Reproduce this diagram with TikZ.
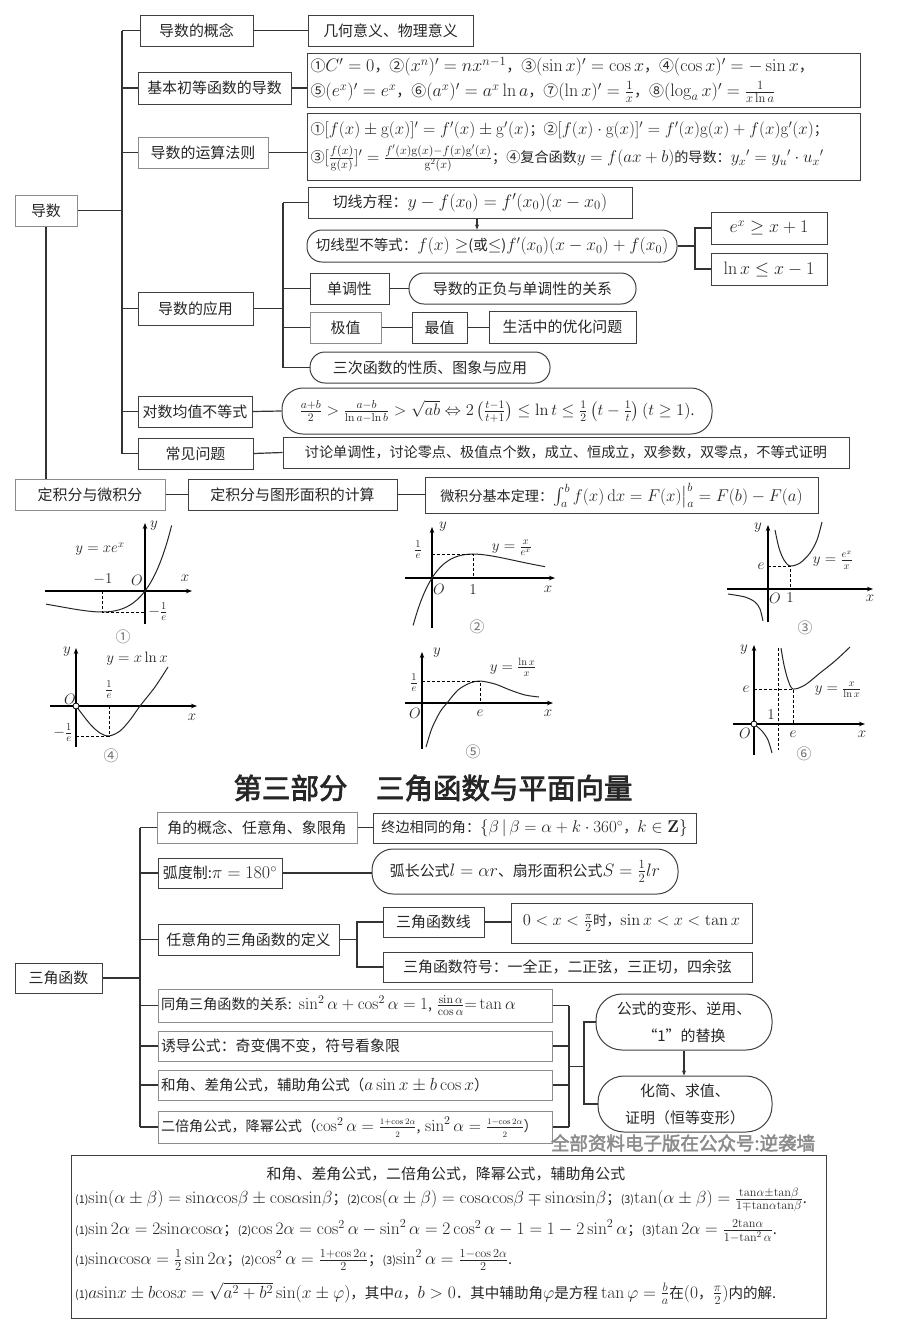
\RequirePackage{fix-cm}
\documentclass[tikz,border=0pt]{standalone}
\usepackage{amsmath,amssymb}
\usepackage[no-math]{fontspec}
\setmainfont{Noto Sans CJK SC}[Scale=0.83]
\newfontfamily\titlefont[FakeBold=2.5]{Noto Sans CJK SC}
\usetikzlibrary{arrows.meta,positioning,calc}
\newcommand{\fsz}[1]{\fontsize{#1}{#1}\selectfont}
\newcommand{\pn}[1]{{\fsz{13}(#1)}}
\newcommand{\sfr}[2]{\frac{\scriptscriptstyle #1}{\scriptscriptstyle #2}}
\tikzset{
  box/.style={draw=black!75, line width=1pt, inner sep=2pt, text=black!85,
    font=\fsz{18}, minimum height=31},
  lbox/.style={box, draw=black!45},
  rbox/.style={box, rounded corners=#1},
  rbox/.default=15pt,
  lt/.style={align=left, text width=#1},
  link/.style={line width=1.2pt, draw=black!80},
  arr/.style={link, -{Stealth[length=5pt,width=4pt]}},
  axis/.style={line width=1.3pt, -{Stealth[length=6pt,width=4.5pt]}},
  curve/.style={line width=1pt, black!85},
  guide/.style={line width=0.8pt, dash pattern=on 3pt off 2pt},
  lab/.style={font=\fsz{15}, inner sep=1pt, text=black!85},
  num/.style={font=\fsz{18}, inner sep=1pt, text=black!55},
  row/.style={anchor=west, inner sep=0pt, font=\fsz{17.5}, text=black!85},
}
\begin{document}
\begin{tikzpicture}[x=1pt,y=-1pt]
\fill[white] (0,0) rectangle (900,1339);
\useasboundingbox (0,0) rectangle (900,1339);

% ---- derivatives
\node[lbox, minimum width=62] (dao) at (46,210.5) {导数};
\node[box, minimum width=113] (gn) at (196.5,30.5) {导数的概念};
\node[box, minimum width=165] (gny) at (390.5,30.5) {几何意义、物理意义};
\node[box, minimum width=153, minimum height=32] (jb) at (214.5,88) {基本初等函数的导数};
\node[box, minimum width=553, minimum height=54, lt=546pt, font=\fontsize{18}{25}\selectfont] (jbf) at (583.5,80)
  {\mbox{①$C'=0$，②$(x^n)'=nx^{n-1}$，③$(\sin x)'=\cos x$，④$(\cos x)'=-\sin x$，}\\
   \mbox{⑤$(e^x)'=e^x$，⑥$(a^x)'=a^x\ln a$，⑦$(\ln x)'=\frac{1}{x}$，⑧$(\log_a x)'=\frac{1}{x\ln a}$}};
\node[lbox, minimum width=130] (ys) at (203,152.5) {导数的运算法则};
\node[box, minimum width=553, minimum height=67, lt=546pt, font=\fontsize{17}{28}\selectfont] (ysf) at (583.5,146.5)
  {\mbox{①$[f(x)\pm \mathrm{g}(x)]'=f'(x)\pm \mathrm{g}'(x)$；②$[f(x)\cdot \mathrm{g}(x)]'=f'(x)\mathrm{g}(x)+f(x)\mathrm{g}'(x)$；}\\
   \mbox{③$[\frac{f(x)}{\mathrm{g}(x)}]'=\frac{f'(x)\mathrm{g}(x)-f(x)\mathrm{g}'(x)}{\mathrm{g}^2(x)}$；④复合函数$y=f(ax+b)$的导数：$y_x{}'=y_u{}'\cdot u_x{}'$}};
\node[box, minimum width=115, minimum height=33] (yy) at (195.5,308.5) {导数的应用};
\node[box, minimum width=324] (qx) at (470,202.5) {切线方程：$y-f(x_0)=f'(x_0)(x-x_0)$};
\node[rbox, minimum width=370, minimum height=32, font=\fsz{17.5}] (qxb) at (492,246)
  {切线型不等式：$f(x)\geq$(或$\leq$)$f'(x_0)(x-x_0)+f(x_0)$};
\node[box, minimum width=116, minimum height=32] (ex) at (769,228) {$e^x\geq x+1$};
\node[box, minimum width=116, minimum height=32] (lnx) at (769,269) {$\ln x\leq x-1$};
\node[box, minimum width=79] (dd) at (349.5,288.5) {单调性};
\node[rbox, minimum width=227] (ddr) at (522.5,288.5) {导数的正负与单调性的关系};
\node[lbox, minimum width=71] (jz) at (345.5,327.5) {极值};
\node[box, minimum width=55] (zz) at (439.5,327.5) {最值};
\node[box, minimum width=147, minimum height=32] (sh) at (562.5,327) {生活中的优化问题};
\node[rbox, minimum width=240] (sc) at (430,367.5) {三次函数的性质、图象与应用};
\node[box, minimum width=114] (dsj) at (195,411.5) {对数均值不等式};
\node[rbox=21pt, minimum width=430, minimum height=46, font=\fsz{16.5}] (dsjf) at (497,411)
  {$\frac{a+b}{2}>\frac{a-b}{\ln a-\ln b}>\sqrt{ab}\Leftrightarrow 2\left(\frac{t-1}{t+1}\right)\leq\ln t\leq\frac{1}{2}\left(t-\frac{1}{t}\right)(t\geq1)$.};
\node[box, minimum width=115] (cj) at (195.5,453.5) {常见问题};
\node[box, minimum width=566, font=\fsz{17}] (cjr) at (566,452.5)
  {讨论单调性，讨论零点、极值点个数，成立、恒成立，双参数，双零点，不等式证明};
\node[lbox, minimum width=150] (djf) at (90,494.5) {定积分与微积分};
\node[box, minimum width=209] (djt) at (292.5,494.5) {定积分与图形面积的计算};
\node[box, minimum width=393, minimum height=36, font=\fsz{17}] (wjf) at (621.5,495.5)
  {微积分基本定理：$\int_a^b f(x)\,\mathrm{d}x=F(x)\big|_a^b=F(b)-F(a)$};

\coordinate (ta) at (122,0);
\draw[link] (gn.west -| ta) -- (cj.west -| ta);
\foreach \n in {gn,jb,ys,yy,dsj,cj} \draw[link] (\n.west) -- (\n.west -| ta);
\draw[link] (dao.east) -- (dao.east -| ta);
\draw[link] (dao.south) -- (dao.south |- djf.north);
\draw[link] (gn.east) -- (gny.west);
\draw[link] (jb.east) -- (jb.east -| jbf.west);
\draw[link] (ys.east) -- (ys.east -| ysf.west);
\coordinate (tb) at (283,0);
\draw[link] (qx.west -| tb) -- (sc.west -| tb);
\draw[link] (yy.east) -- (yy.east -| tb);
\foreach \n in {qx,dd,jz,sc} \draw[link] (\n.west) -- (\n.west -| tb);
\draw[link] (dd.east) -- (ddr.west);
\draw[link] (jz.east) -- (zz.west);
\draw[link] (zz.east) -- (zz.east -| sh.west);
\coordinate (tq) at (477,0);
\draw[arr] (qx.south -| tq) -- (qxb.north -| tq);
\coordinate (tc) at (695,0);
\draw[link] (qxb.east) -- (qxb.east -| tc);
\draw[link] (ex.west) -- (ex.west -| tc) -- (lnx.west -| tc) -- (lnx.west);
\draw[link] (dsj.east) -- (dsjf.west);
\draw[link] (cj.east) -- (cjr.west);
\draw[link] (djf.east) -- (djt.west);
\draw[link] (djt.east) -- (djt.east -| wjf.west);

% ---- graphs
% 1: y = x e^x
\draw[axis] (45,591) -- (192,591);
\draw[axis] (145,624) -- (145,523);
\begin{scope}[shift={(145,591)}, x=43pt, y=57pt]
  \draw[curve, domain=-2.3:0.62, samples=60, smooth] plot (\x,{\x*exp(\x)});
  \draw[guide] (-1,0) -- (-1,-0.368) -- (0,-0.368);
\end{scope}
\node[lab] (g1f) at (100,549) {$y=xe^x$};
\node[lab] (g1y) at (154,526) {$y$};
\node[lab] (g1x) at (185,578) {$x$};
\node[lab] (g1m) at (103,579) {$-1$};
\node[lab] (g1o) at (137,580) {$O$};
\node[lab] (g1e) at (158,612) {$-\frac{1}{e}$};
\node[num] (g1n) at (123,637) {①};
% 2: y = x / e^x
\draw[axis] (405,578) -- (555,578);
\draw[axis] (432,628) -- (432,527);
\begin{scope}[shift={(432,578)}, x=41pt, y=65pt]
  \draw[curve, domain=-0.46:2.76, samples=60, smooth] plot (\x,{\x*exp(-\x)});
  \draw[guide] (0,0.368) -- (1,0.368) -- (1,0);
\end{scope}
\node[lab] (g2e) at (418,550) {$\frac{1}{e}$};
\node[lab] (g2y) at (443,527) {$y$};
\node[lab] (g2o) at (439,589) {$O$};
\node[lab] (g2a) at (473,590) {$1$};
\node[lab] (g2x) at (548,589) {$x$};
\node[lab] (g2f) at (512,548) {$y=\frac{x}{e^x}$};
\node[num] (g2n) at (477,627) {②};
% 3: y = e^x / x
\draw[axis] (727,589) -- (873,589);
\draw[axis] (768,622) -- (768,525);
\draw[curve] plot[smooth] coordinates {(775,530) (779,548) (784,560) (790,566) (800,563) (810,553) (817,540) (822,522)};
\draw[curve] plot[smooth] coordinates {(728,594) (745,597) (755,602) (760,609) (763,621)};
\draw[guide] (768,566) -- (790,566) -- (790,589);
\node[lab] (g3y) at (758,528) {$y$};
\node[lab] (g3e) at (761,566) {$e$};
\node[lab] (g3o) at (775,598) {$O$};
\node[lab] (g3a) at (790,598) {$1$};
\node[lab] (g3x) at (870,598) {$x$};
\node[lab] (g3f) at (833,560) {$y=\frac{e^x}{x}$};
\node[num] (g3n) at (805,628) {③};
% 4: y = x ln x
\draw[axis] (50,706) -- (197,706);
\draw[axis] (76,747) -- (76,648);
\draw[curve] plot[smooth] coordinates {(76,706) (90,724) (100,733) (109,736) (120,731) (130,720) (140,706) (155,687) (168,667)};
\draw[guide] (109,706) -- (109,736) -- (76,736);
\draw[fill=white, line width=0.8pt] (76,706) circle[radius=3pt];
\node[lab] (g4y) at (67,652) {$y$};
\node[lab] (g4f) at (137,659) {$y=x\ln x$};
\node[lab] (g4h) at (109,690) {$\frac{1}{e}$};
\node[lab] (g4o) at (70,699) {$O$};
\node[lab] (g4x) at (192,717) {$x$};
\node[lab] (g4m) at (63,733) {$-\frac{1}{e}$};
\node[num] (g4n) at (111,756) {④};
% 5: y = ln x / x
\draw[axis] (405,703) -- (553,703);
\draw[axis] (422,749) -- (422,652);
\draw[curve] plot[smooth] coordinates {(426,747) (432,728) (440,712) (447,703) (458,690) (470,683) (480,681) (495,684) (510,690) (525,695) (539,697)};
\draw[guide] (422,681) -- (480,681) -- (480,703);
\node[lab] (g5y) at (437,653) {$y$};
\node[lab] (g5h) at (414,683) {$\frac{1}{e}$};
\node[lab] (g5o) at (415,713) {$O$};
\node[lab] (g5e) at (480,713) {$e$};
\node[lab] (g5x) at (548,713) {$x$};
\node[lab] (g5f) at (513,667) {$y=\frac{\ln x}{x}$};
\node[num] (g5n) at (473,752) {⑤};
% 6: y = x / ln x
\draw[axis] (733,724) -- (865,724);
\draw[axis] (754,755) -- (754,645);
\draw[guide] (778,648) -- (778,750);
\draw[curve] plot[smooth] coordinates {(754,724) (762,731) (768,740) (772,753)};
\draw[curve] plot[smooth] coordinates {(781,648) (784,665) (788,680) (793,689) (805,685) (820,673) (835,661) (850,647)};
\draw[guide] (754,689) -- (793,689) -- (793,724);
\draw[fill=white, line width=0.8pt] (754,724) circle[radius=3pt];
\node[lab] (g6y) at (744,650) {$y$};
\node[lab] (g6e) at (746,689) {$e$};
\node[lab] (g6a) at (771,715) {$1$};
\node[lab] (g6o) at (745,733) {$O$};
\node[lab] (g6b) at (793,734) {$e$};
\node[lab] (g6x) at (862,734) {$x$};
\node[lab] (g6f) at (838,690) {$y=\frac{x}{\ln x}$};
\node[num] (g6n) at (804,754) {⑥};

% ---- trigonometry
\node[font=\titlefont\fsz{28.5}, text=black!85] (title) at (433,788) {第三部分　三角函数与平面向量};
\node[box, minimum width=87, minimum height=30] (sj) at (58.5,978) {三角函数};
\node[lbox, minimum width=200] (jd) at (257,827.5) {角的概念、任意角、象限角};
\node[box, minimum width=323, minimum height=30, font=\fsz{17}] (zb) at (534.5,828)
  {终边相同的角：$\{\beta\,|\,\beta=\alpha+k\cdot360^\circ$，$k\in\mathbf{Z}\}$};
\node[box, minimum width=124, minimum height=30] (hd) at (220,873) {弧度制:$\pi=180^\circ$};
\node[rbox=21pt, minimum width=306, minimum height=45] (hc) at (525,871.5)
  {弧长公式$l=\alpha r$、扇形面积公式$S=\frac{1}{2}lr$};
\node[box, minimum width=181] (ry) at (248.5,939.5) {任意角的三角函数的定义};
\node[box, minimum width=101, minimum height=30] (sx) at (433.5,922) {三角函数线};
\node[box, minimum width=241, minimum height=40, font=\fsz{16.5}] (sxr) at (631.5,923) {$0<x<\frac{\pi}{2}$时，$\sin x<x<\tan x$};
\node[box, minimum width=369, minimum height=30] (fh) at (567.5,967) {三角函数符号：一全正，二正弦，三正切，四余弦};
\node[lbox, minimum width=394, minimum height=33, lt=388pt, font=\fsz{17}] (tj) at (355,1005.5)
  {\mbox{同角三角函数的关系: $\sin^2\alpha+\cos^2\alpha=1$, $\frac{\sin\alpha}{\cos\alpha}{=}\tan\alpha$}};
\node[lbox, minimum width=394, minimum height=30, lt=388pt] (yd) at (355,1046) {诱导公式：奇变偶不变，符号看象限};
\node[lbox, minimum width=394, minimum height=30, lt=388pt, font=\fsz{17.5}] (hj) at (355,1085) {\mbox{和角、差角公式，辅助角公式（$a\sin x\pm b\cos x$）}};
\node[lbox, minimum width=394, minimum height=32, lt=388pt, font=\fsz{17}] (bj) at (355,1127)
  {\mbox{二倍角公式，降幂公式（$\cos^2\alpha=\sfr{1+\cos2\alpha}{2}$, $\sin^2\alpha=\sfr{1-\cos2\alpha}{2}$）}};
\node[rbox=26pt, minimum width=176, minimum height=56, align=center, font=\fontsize{18}{27}\selectfont] (bx) at (684,1022) {公式的变形、逆用、\\“1”的替换};
\node[rbox=26pt, minimum width=174, minimum height=56, align=center, font=\fontsize{18}{27}\selectfont] (hjq) at (685,1104) {化简、求值、\\证明（恒等变形）};

\coordinate (tt) at (140,0);
\draw[link] (jd.west -| tt) -- (bj.west -| tt);
\draw[link] (sj.east) -- (sj.east -| tt);
\foreach \n in {jd,hd,ry,tj,yd,hj,bj} \draw[link] (\n.west) -- (\n.west -| tt);
\draw[link] (jd.east) -- (jd.east -| zb.west);
\draw[link] (hd.east) -- (hd.east -| hc.west);
\coordinate (tu) at (357,0);
\draw[link] (ry.east) -- (ry.east -| tu);
\draw[link] (sx.west) -- (sx.west -| tu) -- (fh.west -| tu) -- (fh.west);
\draw[link] (sx.east) -- (sx.east -| sxr.west);
\coordinate (tv) at (569,0);
\coordinate (tw) at (584,0);
\foreach \n in {tj,yd,hj,bj} \draw[link] (\n.east) -- (\n.east -| tv);
\draw[link] (tj.east -| tv) -- (bj.east -| tv);
\coordinate (tm) at ($(tj.east -| tv)!0.5!(bj.east -| tv)$);
\draw[link] (tm) -- (tm -| tw);
\draw[link] (bx.west) -- (bx.west -| tw) -- (hjq.west -| tw) -- (hjq.west);
\draw[arr] (bx.south) -- (bx.south |- hjq.north);

\node[font=\titlefont\fsz{18.5}, text=black!45] (wm) at (683,1143) {全部资料电子版在公众号:逆袭墙};

% ---- formula box
\node[box, minimum width=755, minimum height=163] (gs) at (448.5,1236.5) {};
\node[font=\fsz{18}, text=black!85, inner sep=0pt] (gs0) at (446,1174) {和角、差角公式，二倍角公式，降幂公式，辅助角公式};
\node[row] (gs1) at (75,1200)
  {\pn{1}$\sin(\alpha\pm\beta)=\mathrm{sin}\alpha\mathrm{cos}\beta\pm\mathrm{cos}\alpha\mathrm{sin}\beta$；\pn{2}$\cos(\alpha\pm\beta)=\mathrm{cos}\alpha\mathrm{cos}\beta\mp\mathrm{sin}\alpha\mathrm{sin}\beta$；\pn{3}$\tan(\alpha\pm\beta)=\frac{\mathrm{tan}\alpha\pm\mathrm{tan}\beta}{1\mp\mathrm{tan}\alpha\mathrm{tan}\beta}$.};
\node[row] (gs2) at (75,1231)
  {\pn{1}$\sin2\alpha=2\mathrm{sin}\alpha\mathrm{cos}\alpha$；\pn{2}$\cos2\alpha=\cos^2\alpha-\sin^2\alpha=2\cos^2\alpha-1=1-2\sin^2\alpha$；\pn{3}$\tan2\alpha=\frac{2\mathrm{tan}\alpha}{1-\tan^2\alpha}$.};
\node[row] (gs3) at (75,1260)
  {\pn{1}$\mathrm{sin}\alpha\mathrm{cos}\alpha=\frac{1}{2}\sin2\alpha$；\pn{2}$\cos^2\alpha=\frac{1+\cos2\alpha}{2}$；\pn{3}$\sin^2\alpha=\frac{1-\cos2\alpha}{2}$.};
\node[row] (gs4) at (75,1293)
  {\pn{1}$a\mathrm{sin}x\pm b\mathrm{cos}x=\sqrt{a^2+b^2}\sin(x\pm\varphi)$，其中$a$，$b>0$．其中辅助角$\varphi$是方程 $\tan\varphi=\frac{b}{a}$在$(0$，$\frac{\pi}{2})$内的解.};
\end{tikzpicture}
\end{document}
